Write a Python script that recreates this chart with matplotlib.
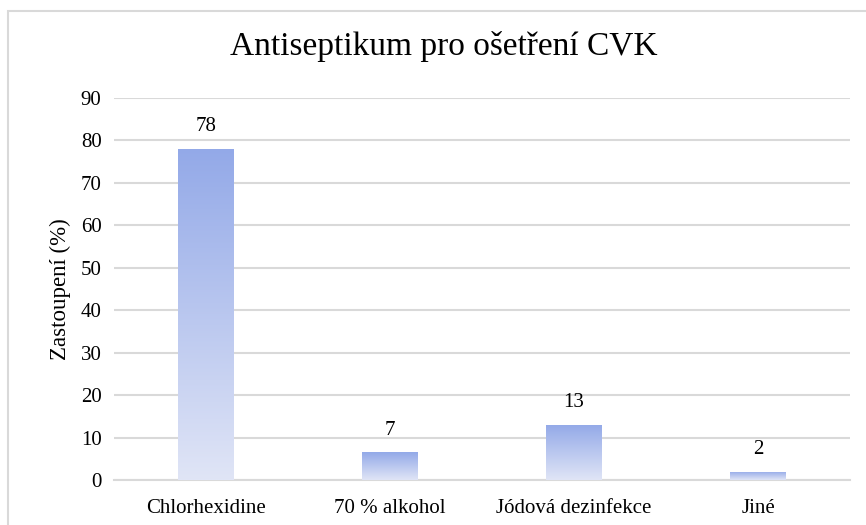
import numpy as np
import matplotlib
matplotlib.use('Agg')
from matplotlib import pyplot as plt
from matplotlib.patches import Rectangle
from matplotlib.colors import LinearSegmentedColormap

categories = ['Chlorhexidine', '70 % alkohol', 'Jódová dezinfekce', 'Jiné']
values = [78, 6.5, 13, 2]
value_labels = ['78', '7', '13', '2']
yticks = list(range(0, 100, 10))

plt.rcParams['font.family'] = ['Liberation Serif', 'DejaVu Serif']

fig = plt.figure(figsize=(8.66, 5.25), dpi=100)
ax = fig.add_axes([114 / 866, 1 - 480 / 525, 736 / 866, 382 / 525])

# outer chart border
fig.patches.append(Rectangle((8 / 866, -0.01), 1.0, 1 - 11 / 525 + 0.01,
                             transform=fig.transFigure, fill=False,
                             edgecolor='#d9d9d9', linewidth=1.5))

grad = LinearSegmentedColormap.from_list('g', ['#e0e5f6', '#93a9e8'])
x = np.arange(len(categories))
bars = ax.bar(x, values, width=0.30, color='none', zorder=3)
ramp = np.linspace(0, 1, 256).reshape(-1, 1)
for b in bars:
    x0, y0 = b.get_x(), b.get_y()
    w, h = b.get_width(), b.get_height()
    im = ax.imshow(ramp, cmap=grad, aspect='auto', origin='lower',
                   extent=[x0, x0 + w, y0, y0 + h], zorder=3)
    im.set_clip_path(b)

for xi, v, lab in zip(x, values, value_labels):
    ax.text(xi, v + 3.0, lab, ha='center', va='bottom', fontsize=15, color='#000000')

ax.set_xlim(-0.5, len(categories) - 0.5)
ax.set_ylim(0, 90)
ax.set_yticks(yticks)
ax.set_xticks(x)
ax.set_xticklabels(categories, fontsize=15)
ax.tick_params(axis='y', labelsize=15, length=0, pad=9)
ax.tick_params(axis='x', length=0, pad=14)
ax.grid(axis='y', color='#d9d9d9', linewidth=1.5, zorder=0)
ax.set_axisbelow(True)
for s in ['top', 'right', 'left']:
    ax.spines[s].set_visible(False)
ax.spines['bottom'].set_color('#d9d9d9')
ax.spines['bottom'].set_linewidth(1.5)

ax.set_ylabel('Zastoupení (%)', fontsize=16.5, labelpad=7)
fig.text(444 / 866, 1 - 47 / 525, 'Antiseptikum pro ošetření CVK',
         ha='center', va='center', fontsize=24)

fig.savefig('out.png', dpi=100)
